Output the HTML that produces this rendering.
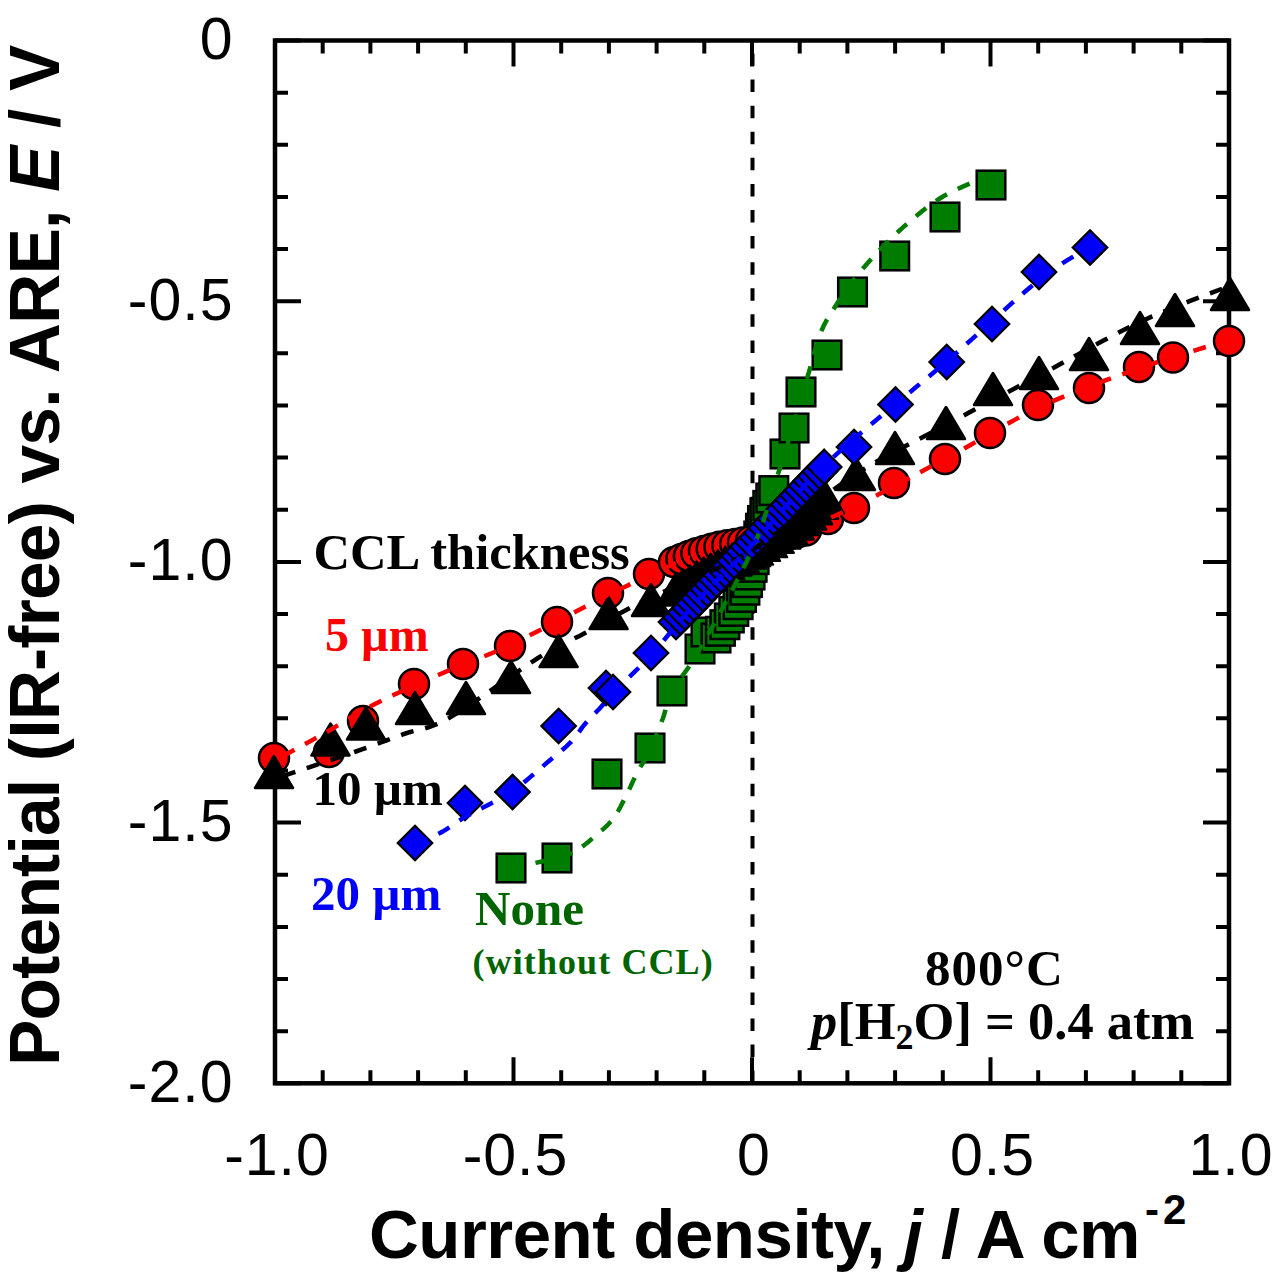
<!DOCTYPE html>
<html><head><meta charset="utf-8"><style>html,body{margin:0;padding:0;background:#fff;width:1280px;height:1273px;overflow:hidden}svg{display:block}</style></head>
<body><svg width="1280" height="1273" viewBox="0 0 1280 1273">
<rect width="1280" height="1273" fill="#fff"/>
<line x1="752.5" y1="40.5" x2="752.5" y2="1083.3" stroke="#000" stroke-width="4" stroke-dasharray="12.5 13.58" stroke-dashoffset="-13"/>
<rect x="275" y="40.5" width="954" height="1042.8" fill="none" stroke="#000" stroke-width="4.5"/>
<path d="M275.00,40.5v26M275.00,1083.3v-26M322.70,40.5v13M322.70,1083.3v-13M370.40,40.5v13M370.40,1083.3v-13M418.10,40.5v13M418.10,1083.3v-13M465.80,40.5v13M465.80,1083.3v-13M513.50,40.5v26M513.50,1083.3v-26M561.20,40.5v13M561.20,1083.3v-13M608.90,40.5v13M608.90,1083.3v-13M656.60,40.5v13M656.60,1083.3v-13M704.30,40.5v13M704.30,1083.3v-13M752.00,40.5v26M752.00,1083.3v-26M799.70,40.5v13M799.70,1083.3v-13M847.40,40.5v13M847.40,1083.3v-13M895.10,40.5v13M895.10,1083.3v-13M942.80,40.5v13M942.80,1083.3v-13M990.50,40.5v26M990.50,1083.3v-26M1038.20,40.5v13M1038.20,1083.3v-13M1085.90,40.5v13M1085.90,1083.3v-13M1133.60,40.5v13M1133.60,1083.3v-13M1181.30,40.5v13M1181.30,1083.3v-13M1229.00,40.5v26M1229.00,1083.3v-26M275,40.50h26M1229,40.50h-26M275,92.64h13M1229,92.64h-13M275,144.78h13M1229,144.78h-13M275,196.92h13M1229,196.92h-13M275,249.06h13M1229,249.06h-13M275,301.20h26M1229,301.20h-26M275,353.34h13M1229,353.34h-13M275,405.48h13M1229,405.48h-13M275,457.62h13M1229,457.62h-13M275,509.76h13M1229,509.76h-13M275,561.90h26M1229,561.90h-26M275,614.04h13M1229,614.04h-13M275,666.18h13M1229,666.18h-13M275,718.32h13M1229,718.32h-13M275,770.46h13M1229,770.46h-13M275,822.60h26M1229,822.60h-26M275,874.74h13M1229,874.74h-13M275,926.88h13M1229,926.88h-13M275,979.02h13M1229,979.02h-13M275,1031.16h13M1229,1031.16h-13M275,1083.30h26M1229,1083.30h-26" stroke="#000" stroke-width="4" fill="none"/>
<g>
<rect x="496.7" y="853.7" width="28.6" height="28.6" fill="#007d00" stroke="#000" stroke-width="2.5"/>
<rect x="542.7" y="843.7" width="28.6" height="28.6" fill="#007d00" stroke="#000" stroke-width="2.5"/>
<rect x="592.7" y="759.7" width="28.6" height="28.6" fill="#007d00" stroke="#000" stroke-width="2.5"/>
<rect x="635.7" y="733.7" width="28.6" height="28.6" fill="#007d00" stroke="#000" stroke-width="2.5"/>
<rect x="657.7" y="676.7" width="28.6" height="28.6" fill="#007d00" stroke="#000" stroke-width="2.5"/>
<rect x="685.7" y="634.7" width="28.6" height="28.6" fill="#007d00" stroke="#000" stroke-width="2.5"/>
<rect x="691.7" y="617.7" width="28.6" height="28.6" fill="#007d00" stroke="#000" stroke-width="2.5"/>
<rect x="701.7" y="623.7" width="28.6" height="28.6" fill="#007d00" stroke="#000" stroke-width="2.5"/>
<rect x="706.1" y="617.0" width="28.6" height="28.6" fill="#007d00" stroke="#000" stroke-width="2.5"/>
<rect x="710.6" y="610.4" width="28.6" height="28.6" fill="#007d00" stroke="#000" stroke-width="2.5"/>
<rect x="715.0" y="603.7" width="28.6" height="28.6" fill="#007d00" stroke="#000" stroke-width="2.5"/>
<rect x="719.5" y="597.1" width="28.6" height="28.6" fill="#007d00" stroke="#000" stroke-width="2.5"/>
<rect x="723.8" y="590.4" width="28.6" height="28.6" fill="#007d00" stroke="#000" stroke-width="2.5"/>
<rect x="727.2" y="583.1" width="28.6" height="28.6" fill="#007d00" stroke="#000" stroke-width="2.5"/>
<rect x="730.6" y="575.9" width="28.6" height="28.6" fill="#007d00" stroke="#000" stroke-width="2.5"/>
<rect x="733.2" y="568.3" width="28.6" height="28.6" fill="#007d00" stroke="#000" stroke-width="2.5"/>
<rect x="735.7" y="560.7" width="28.6" height="28.6" fill="#007d00" stroke="#000" stroke-width="2.5"/>
<rect x="737.8" y="553.0" width="28.6" height="28.6" fill="#007d00" stroke="#000" stroke-width="2.5"/>
<rect x="739.8" y="545.3" width="28.6" height="28.6" fill="#007d00" stroke="#000" stroke-width="2.5"/>
<rect x="741.4" y="537.4" width="28.6" height="28.6" fill="#007d00" stroke="#000" stroke-width="2.5"/>
<rect x="742.9" y="529.6" width="28.6" height="28.6" fill="#007d00" stroke="#000" stroke-width="2.5"/>
<rect x="744.5" y="521.7" width="28.6" height="28.6" fill="#007d00" stroke="#000" stroke-width="2.5"/>
<rect x="746.2" y="513.9" width="28.6" height="28.6" fill="#007d00" stroke="#000" stroke-width="2.5"/>
<rect x="748.2" y="506.2" width="28.6" height="28.6" fill="#007d00" stroke="#000" stroke-width="2.5"/>
<rect x="750.6" y="498.5" width="28.6" height="28.6" fill="#007d00" stroke="#000" stroke-width="2.5"/>
<rect x="753.5" y="491.1" width="28.6" height="28.6" fill="#007d00" stroke="#000" stroke-width="2.5"/>
<rect x="756.5" y="483.7" width="28.6" height="28.6" fill="#007d00" stroke="#000" stroke-width="2.5"/>
<rect x="759.5" y="476.3" width="28.6" height="28.6" fill="#007d00" stroke="#000" stroke-width="2.5"/>
<rect x="770.7" y="439.7" width="28.6" height="28.6" fill="#007d00" stroke="#000" stroke-width="2.5"/>
<rect x="779.7" y="413.7" width="28.6" height="28.6" fill="#007d00" stroke="#000" stroke-width="2.5"/>
<rect x="786.7" y="377.7" width="28.6" height="28.6" fill="#007d00" stroke="#000" stroke-width="2.5"/>
<rect x="812.7" y="340.7" width="28.6" height="28.6" fill="#007d00" stroke="#000" stroke-width="2.5"/>
<rect x="838.2" y="277.7" width="28.6" height="28.6" fill="#007d00" stroke="#000" stroke-width="2.5"/>
<rect x="880.4" y="241.7" width="28.6" height="28.6" fill="#007d00" stroke="#000" stroke-width="2.5"/>
<rect x="930.7" y="202.7" width="28.6" height="28.6" fill="#007d00" stroke="#000" stroke-width="2.5"/>
<rect x="976.7" y="170.7" width="28.6" height="28.6" fill="#007d00" stroke="#000" stroke-width="2.5"/>
<circle cx="274" cy="758" r="15" fill="#fa0000" stroke="#000" stroke-width="2.5"/>
<circle cx="329" cy="752" r="15" fill="#fa0000" stroke="#000" stroke-width="2.5"/>
<circle cx="363" cy="721" r="15" fill="#fa0000" stroke="#000" stroke-width="2.5"/>
<circle cx="414" cy="684" r="15" fill="#fa0000" stroke="#000" stroke-width="2.5"/>
<circle cx="463" cy="664" r="15" fill="#fa0000" stroke="#000" stroke-width="2.5"/>
<circle cx="510" cy="646" r="15" fill="#fa0000" stroke="#000" stroke-width="2.5"/>
<circle cx="557" cy="622" r="15" fill="#fa0000" stroke="#000" stroke-width="2.5"/>
<circle cx="608" cy="593" r="15" fill="#fa0000" stroke="#000" stroke-width="2.5"/>
<circle cx="649" cy="574" r="15" fill="#fa0000" stroke="#000" stroke-width="2.5"/>
<circle cx="674" cy="562" r="15" fill="#fa0000" stroke="#000" stroke-width="2.5"/>
<circle cx="681.4" cy="559.0" r="15" fill="#fa0000" stroke="#000" stroke-width="2.5"/>
<circle cx="688.9" cy="556.1" r="15" fill="#fa0000" stroke="#000" stroke-width="2.5"/>
<circle cx="696.4" cy="553.3" r="15" fill="#fa0000" stroke="#000" stroke-width="2.5"/>
<circle cx="704.0" cy="551.1" r="15" fill="#fa0000" stroke="#000" stroke-width="2.5"/>
<circle cx="711.7" cy="548.8" r="15" fill="#fa0000" stroke="#000" stroke-width="2.5"/>
<circle cx="719.4" cy="546.7" r="15" fill="#fa0000" stroke="#000" stroke-width="2.5"/>
<circle cx="727.3" cy="545.3" r="15" fill="#fa0000" stroke="#000" stroke-width="2.5"/>
<circle cx="735.2" cy="543.9" r="15" fill="#fa0000" stroke="#000" stroke-width="2.5"/>
<circle cx="743.0" cy="542.4" r="15" fill="#fa0000" stroke="#000" stroke-width="2.5"/>
<circle cx="750.9" cy="541.0" r="15" fill="#fa0000" stroke="#000" stroke-width="2.5"/>
<circle cx="758.8" cy="539.7" r="15" fill="#fa0000" stroke="#000" stroke-width="2.5"/>
<circle cx="766.7" cy="538.3" r="15" fill="#fa0000" stroke="#000" stroke-width="2.5"/>
<circle cx="774.6" cy="536.9" r="15" fill="#fa0000" stroke="#000" stroke-width="2.5"/>
<circle cx="782.4" cy="535.5" r="15" fill="#fa0000" stroke="#000" stroke-width="2.5"/>
<circle cx="790.3" cy="533.9" r="15" fill="#fa0000" stroke="#000" stroke-width="2.5"/>
<circle cx="798.1" cy="532.3" r="15" fill="#fa0000" stroke="#000" stroke-width="2.5"/>
<circle cx="805.9" cy="530.6" r="15" fill="#fa0000" stroke="#000" stroke-width="2.5"/>
<circle cx="828" cy="519" r="15" fill="#fa0000" stroke="#000" stroke-width="2.5"/>
<circle cx="854" cy="508" r="15" fill="#fa0000" stroke="#000" stroke-width="2.5"/>
<circle cx="894" cy="483" r="15" fill="#fa0000" stroke="#000" stroke-width="2.5"/>
<circle cx="945" cy="459" r="15" fill="#fa0000" stroke="#000" stroke-width="2.5"/>
<circle cx="990" cy="433" r="15" fill="#fa0000" stroke="#000" stroke-width="2.5"/>
<circle cx="1038" cy="405" r="15" fill="#fa0000" stroke="#000" stroke-width="2.5"/>
<circle cx="1089" cy="388" r="15" fill="#fa0000" stroke="#000" stroke-width="2.5"/>
<circle cx="1139" cy="367" r="15" fill="#fa0000" stroke="#000" stroke-width="2.5"/>
<circle cx="1173" cy="357.5" r="15" fill="#fa0000" stroke="#000" stroke-width="2.5"/>
<circle cx="1229" cy="341" r="15" fill="#fa0000" stroke="#000" stroke-width="2.5"/>
<path d="M274,756 L293,788 L255,788Z" fill="#000" stroke="#000" stroke-width="2.5" stroke-linejoin="round"/>
<path d="M330.5,723.5 L349.5,755.5 L311.5,755.5Z" fill="#000" stroke="#000" stroke-width="2.5" stroke-linejoin="round"/>
<path d="M366,707.5 L385,739.5 L347,739.5Z" fill="#000" stroke="#000" stroke-width="2.5" stroke-linejoin="round"/>
<path d="M415,692 L434,724 L396,724Z" fill="#000" stroke="#000" stroke-width="2.5" stroke-linejoin="round"/>
<path d="M466,682 L485,714 L447,714Z" fill="#000" stroke="#000" stroke-width="2.5" stroke-linejoin="round"/>
<path d="M511,661 L530,693 L492,693Z" fill="#000" stroke="#000" stroke-width="2.5" stroke-linejoin="round"/>
<path d="M558.6,635 L577.6,667 L539.6,667Z" fill="#000" stroke="#000" stroke-width="2.5" stroke-linejoin="round"/>
<path d="M608.6,597 L627.6,629 L589.6,629Z" fill="#000" stroke="#000" stroke-width="2.5" stroke-linejoin="round"/>
<path d="M651,584 L670,616 L632,616Z" fill="#000" stroke="#000" stroke-width="2.5" stroke-linejoin="round"/>
<path d="M676,573.5 L695,605.5 L657,605.5Z" fill="#000" stroke="#000" stroke-width="2.5" stroke-linejoin="round"/>
<path d="M682.9,569.5 L701.9,601.5 L663.9,601.5Z" fill="#000" stroke="#000" stroke-width="2.5" stroke-linejoin="round"/>
<path d="M689.9,565.5 L708.9,597.5 L670.9,597.5Z" fill="#000" stroke="#000" stroke-width="2.5" stroke-linejoin="round"/>
<path d="M696.8,561.6 L715.8,593.6 L677.8,593.6Z" fill="#000" stroke="#000" stroke-width="2.5" stroke-linejoin="round"/>
<path d="M703.8,557.6 L722.8,589.6 L684.8,589.6Z" fill="#000" stroke="#000" stroke-width="2.5" stroke-linejoin="round"/>
<path d="M710.7,553.7 L729.7,585.7 L691.7,585.7Z" fill="#000" stroke="#000" stroke-width="2.5" stroke-linejoin="round"/>
<path d="M718.0,550.3 L737.0,582.3 L699.0,582.3Z" fill="#000" stroke="#000" stroke-width="2.5" stroke-linejoin="round"/>
<path d="M725.2,546.9 L744.2,578.9 L706.2,578.9Z" fill="#000" stroke="#000" stroke-width="2.5" stroke-linejoin="round"/>
<path d="M732.5,543.5 L751.5,575.5 L713.5,575.5Z" fill="#000" stroke="#000" stroke-width="2.5" stroke-linejoin="round"/>
<path d="M739.7,540.1 L758.7,572.1 L720.7,572.1Z" fill="#000" stroke="#000" stroke-width="2.5" stroke-linejoin="round"/>
<path d="M746.8,536.4 L765.8,568.4 L727.8,568.4Z" fill="#000" stroke="#000" stroke-width="2.5" stroke-linejoin="round"/>
<path d="M753.9,532.6 L772.9,564.6 L734.9,564.6Z" fill="#000" stroke="#000" stroke-width="2.5" stroke-linejoin="round"/>
<path d="M760.9,528.8 L779.9,560.8 L741.9,560.8Z" fill="#000" stroke="#000" stroke-width="2.5" stroke-linejoin="round"/>
<path d="M768.0,525.1 L787.0,557.1 L749.0,557.1Z" fill="#000" stroke="#000" stroke-width="2.5" stroke-linejoin="round"/>
<path d="M774.7,520.8 L793.7,552.8 L755.7,552.8Z" fill="#000" stroke="#000" stroke-width="2.5" stroke-linejoin="round"/>
<path d="M781.4,516.4 L800.4,548.4 L762.4,548.4Z" fill="#000" stroke="#000" stroke-width="2.5" stroke-linejoin="round"/>
<path d="M788.1,512.0 L807.1,544.0 L769.1,544.0Z" fill="#000" stroke="#000" stroke-width="2.5" stroke-linejoin="round"/>
<path d="M794.7,507.5 L813.7,539.5 L775.7,539.5Z" fill="#000" stroke="#000" stroke-width="2.5" stroke-linejoin="round"/>
<path d="M801.2,502.9 L820.2,534.9 L782.2,534.9Z" fill="#000" stroke="#000" stroke-width="2.5" stroke-linejoin="round"/>
<path d="M807.2,497.5 L826.2,529.5 L788.2,529.5Z" fill="#000" stroke="#000" stroke-width="2.5" stroke-linejoin="round"/>
<path d="M813.1,492.2 L832.1,524.2 L794.1,524.2Z" fill="#000" stroke="#000" stroke-width="2.5" stroke-linejoin="round"/>
<path d="M819.1,486.8 L838.1,518.8 L800.1,518.8Z" fill="#000" stroke="#000" stroke-width="2.5" stroke-linejoin="round"/>
<path d="M825.0,481.5 L844.0,513.5 L806.0,513.5Z" fill="#000" stroke="#000" stroke-width="2.5" stroke-linejoin="round"/>
<path d="M856,458 L875,490 L837,490Z" fill="#000" stroke="#000" stroke-width="2.5" stroke-linejoin="round"/>
<path d="M895,432 L914,464 L876,464Z" fill="#000" stroke="#000" stroke-width="2.5" stroke-linejoin="round"/>
<path d="M946,407 L965,439 L927,439Z" fill="#000" stroke="#000" stroke-width="2.5" stroke-linejoin="round"/>
<path d="M993,373 L1012,405 L974,405Z" fill="#000" stroke="#000" stroke-width="2.5" stroke-linejoin="round"/>
<path d="M1039,357 L1058,389 L1020,389Z" fill="#000" stroke="#000" stroke-width="2.5" stroke-linejoin="round"/>
<path d="M1089,338 L1108,370 L1070,370Z" fill="#000" stroke="#000" stroke-width="2.5" stroke-linejoin="round"/>
<path d="M1140,312 L1159,344 L1121,344Z" fill="#000" stroke="#000" stroke-width="2.5" stroke-linejoin="round"/>
<path d="M1175,294 L1194,326 L1156,326Z" fill="#000" stroke="#000" stroke-width="2.5" stroke-linejoin="round"/>
<path d="M1230,278 L1249,310 L1211,310Z" fill="#000" stroke="#000" stroke-width="2.5" stroke-linejoin="round"/>
<path d="M415,825.8 L432.2,843 L415,860.2 L397.8,843Z" fill="#0000fa" stroke="#000" stroke-width="2.3"/>
<path d="M465,785.8 L482.2,803 L465,820.2 L447.8,803Z" fill="#0000fa" stroke="#000" stroke-width="2.3"/>
<path d="M512.5,774.8 L529.7,792 L512.5,809.2 L495.3,792Z" fill="#0000fa" stroke="#000" stroke-width="2.3"/>
<path d="M558.6,708.8 L575.8000000000001,726 L558.6,743.2 L541.4,726Z" fill="#0000fa" stroke="#000" stroke-width="2.3"/>
<path d="M606,670.8 L623.2,688 L606,705.2 L588.8,688Z" fill="#0000fa" stroke="#000" stroke-width="2.3"/>
<path d="M613,674.8 L630.2,692 L613,709.2 L595.8,692Z" fill="#0000fa" stroke="#000" stroke-width="2.3"/>
<path d="M651,635.8 L668.2,653 L651,670.2 L633.8,653Z" fill="#0000fa" stroke="#000" stroke-width="2.3"/>
<path d="M676,604.8 L693.2,622 L676,639.2 L658.8,622Z" fill="#0000fa" stroke="#000" stroke-width="2.3"/>
<path d="M680.5,600.0999999999999 L697.7,617.3 L680.5,634.5 L663.3,617.3Z" fill="#0000fa" stroke="#000" stroke-width="2.3"/>
<path d="M685.0,595.4 L702.2,612.6 L685.0,629.8000000000001 L667.8,612.6Z" fill="#0000fa" stroke="#000" stroke-width="2.3"/>
<path d="M689.5,590.6999999999999 L706.7,607.9 L689.5,625.1 L672.3,607.9Z" fill="#0000fa" stroke="#000" stroke-width="2.3"/>
<path d="M694.0,586.0 L711.2,603.2 L694.0,620.4000000000001 L676.8,603.2Z" fill="#0000fa" stroke="#000" stroke-width="2.3"/>
<path d="M698.5,581.3 L715.7,598.5 L698.5,615.7 L681.3,598.5Z" fill="#0000fa" stroke="#000" stroke-width="2.3"/>
<path d="M702.9,576.5999999999999 L720.1,593.8 L702.9,611.0 L685.6999999999999,593.8Z" fill="#0000fa" stroke="#000" stroke-width="2.3"/>
<path d="M707.4,571.9 L724.6,589.1 L707.4,606.3000000000001 L690.1999999999999,589.1Z" fill="#0000fa" stroke="#000" stroke-width="2.3"/>
<path d="M711.9,567.1999999999999 L729.1,584.4 L711.9,601.6 L694.6999999999999,584.4Z" fill="#0000fa" stroke="#000" stroke-width="2.3"/>
<path d="M716.4,562.5 L733.6,579.7 L716.4,596.9000000000001 L699.1999999999999,579.7Z" fill="#0000fa" stroke="#000" stroke-width="2.3"/>
<path d="M720.9,557.8 L738.1,575.0 L720.9,592.2 L703.6999999999999,575.0Z" fill="#0000fa" stroke="#000" stroke-width="2.3"/>
<path d="M725.4,553.0999999999999 L742.6,570.3 L725.4,587.5 L708.1999999999999,570.3Z" fill="#0000fa" stroke="#000" stroke-width="2.3"/>
<path d="M729.9,548.4 L747.1,565.6 L729.9,582.8000000000001 L712.6999999999999,565.6Z" fill="#0000fa" stroke="#000" stroke-width="2.3"/>
<path d="M734.4,543.6999999999999 L751.6,560.9 L734.4,578.1 L717.1999999999999,560.9Z" fill="#0000fa" stroke="#000" stroke-width="2.3"/>
<path d="M738.9,539.0 L756.1,556.2 L738.9,573.4000000000001 L721.6999999999999,556.2Z" fill="#0000fa" stroke="#000" stroke-width="2.3"/>
<path d="M743.4,534.3 L760.6,551.5 L743.4,568.7 L726.1999999999999,551.5Z" fill="#0000fa" stroke="#000" stroke-width="2.3"/>
<path d="M747.8,529.5999999999999 L765.0,546.8 L747.8,564.0 L730.5999999999999,546.8Z" fill="#0000fa" stroke="#000" stroke-width="2.3"/>
<path d="M752.3,524.9 L769.5,542.1 L752.3,559.3000000000001 L735.0999999999999,542.1Z" fill="#0000fa" stroke="#000" stroke-width="2.3"/>
<path d="M756.8,520.1999999999999 L774.0,537.4 L756.8,554.6 L739.5999999999999,537.4Z" fill="#0000fa" stroke="#000" stroke-width="2.3"/>
<path d="M761.3,515.5 L778.5,532.7 L761.3,549.9000000000001 L744.0999999999999,532.7Z" fill="#0000fa" stroke="#000" stroke-width="2.3"/>
<path d="M765.8,510.8 L783.0,528.0 L765.8,545.2 L748.5999999999999,528.0Z" fill="#0000fa" stroke="#000" stroke-width="2.3"/>
<path d="M770.3,506.09999999999997 L787.5,523.3 L770.3,540.5 L753.0999999999999,523.3Z" fill="#0000fa" stroke="#000" stroke-width="2.3"/>
<path d="M774.8,501.40000000000003 L792.0,518.6 L774.8,535.8000000000001 L757.5999999999999,518.6Z" fill="#0000fa" stroke="#000" stroke-width="2.3"/>
<path d="M779.3,496.7 L796.5,513.9 L779.3,531.1 L762.0999999999999,513.9Z" fill="#0000fa" stroke="#000" stroke-width="2.3"/>
<path d="M783.8,492.0 L801.0,509.2 L783.8,526.4 L766.5999999999999,509.2Z" fill="#0000fa" stroke="#000" stroke-width="2.3"/>
<path d="M788.3,487.3 L805.5,504.5 L788.3,521.7 L771.0999999999999,504.5Z" fill="#0000fa" stroke="#000" stroke-width="2.3"/>
<path d="M792.8,482.6 L810.0,499.8 L792.8,517.0 L775.5999999999999,499.8Z" fill="#0000fa" stroke="#000" stroke-width="2.3"/>
<path d="M797.2,477.90000000000003 L814.4000000000001,495.1 L797.2,512.3000000000001 L780.0,495.1Z" fill="#0000fa" stroke="#000" stroke-width="2.3"/>
<path d="M801.7,473.2 L818.9000000000001,490.4 L801.7,507.59999999999997 L784.5,490.4Z" fill="#0000fa" stroke="#000" stroke-width="2.3"/>
<path d="M806.2,468.5 L823.4000000000001,485.7 L806.2,502.9 L789.0,485.7Z" fill="#0000fa" stroke="#000" stroke-width="2.3"/>
<path d="M810.7,463.8 L827.9000000000001,481.0 L810.7,498.2 L793.5,481.0Z" fill="#0000fa" stroke="#000" stroke-width="2.3"/>
<path d="M815.2,459.1 L832.4000000000001,476.3 L815.2,493.5 L798.0,476.3Z" fill="#0000fa" stroke="#000" stroke-width="2.3"/>
<path d="M819.7,454.40000000000003 L836.9000000000001,471.6 L819.7,488.8 L802.5,471.6Z" fill="#0000fa" stroke="#000" stroke-width="2.3"/>
<path d="M824.2,449.7 L841.4000000000001,466.9 L824.2,484.09999999999997 L807.0,466.9Z" fill="#0000fa" stroke="#000" stroke-width="2.3"/>
<path d="M854,429.8 L871.2,447 L854,464.2 L836.8,447Z" fill="#0000fa" stroke="#000" stroke-width="2.3"/>
<path d="M895.5,387.3 L912.7,404.5 L895.5,421.7 L878.3,404.5Z" fill="#0000fa" stroke="#000" stroke-width="2.3"/>
<path d="M946.7,344.8 L963.9000000000001,362 L946.7,379.2 L929.5,362Z" fill="#0000fa" stroke="#000" stroke-width="2.3"/>
<path d="M992,306.8 L1009.2,324 L992,341.2 L974.8,324Z" fill="#0000fa" stroke="#000" stroke-width="2.3"/>
<path d="M1039,254.8 L1056.2,272 L1039,289.2 L1021.8,272Z" fill="#0000fa" stroke="#000" stroke-width="2.3"/>
<path d="M1090,230.3 L1107.2,247.5 L1090,264.7 L1072.8,247.5Z" fill="#0000fa" stroke="#000" stroke-width="2.3"/>
</g>
<path d="M511.0,868.0 L514.7,867.2 L519.9,866.2 L526.0,864.9 L532.8,863.5 L539.6,862.0 L546.2,860.6 L552.2,859.2 L557.0,858.0 L560.8,856.9 L563.9,856.0 L566.5,855.1 L568.8,854.2 L570.9,853.3 L572.8,852.3 L574.8,851.2 L577.0,850.0 L579.3,848.6 L581.4,847.2 L583.5,845.7 L585.6,844.1 L587.6,842.5 L589.7,840.7 L591.8,838.9 L594.0,837.0 L596.3,835.0 L598.8,833.0 L601.2,830.8 L603.8,828.6 L606.2,826.3 L608.6,824.0 L610.9,821.5 L613.0,819.0 L614.9,816.4 L616.7,813.6 L618.4,810.7 L620.0,807.8 L621.5,804.8 L623.0,801.9 L624.5,798.9 L626.0,796.0 L627.5,793.1 L628.8,790.2 L630.2,787.4 L631.5,784.5 L632.8,781.6 L634.2,778.8 L635.5,775.9 L637.0,773.0 L638.5,770.2 L640.1,767.5 L641.7,764.8 L643.4,762.1 L645.0,759.3 L646.7,756.4 L648.4,753.3 L650.0,750.0 L651.7,746.4 L653.3,742.5 L655.1,738.4 L656.8,734.2 L658.4,730.0 L660.0,725.9 L661.6,721.8 L663.0,718.0 L664.2,714.5 L665.1,711.2 L665.8,708.2 L666.6,705.1 L667.4,702.0 L668.5,698.7 L670.0,695.1 L672.0,691.0 L674.4,686.9 L677.1,682.9 L680.1,678.9 L683.3,674.5 L686.9,669.6 L690.9,663.9 L695.2,657.1 L700.0,649.0 L705.5,639.2 L712.0,627.6 L719.0,614.8 L726.2,601.2 L733.5,587.5 L740.4,574.0 L746.7,561.4 L752.0,550.0 L756.4,539.7 L760.2,530.0 L763.4,520.7 L766.2,511.9 L768.8,503.5 L771.2,495.4 L773.6,487.6 L776.0,480.0 L778.4,472.7 L780.7,465.8 L782.8,459.3 L784.8,453.0 L786.7,447.0 L788.5,441.2 L790.3,435.5 L792.0,430.0 L793.6,424.6 L795.2,419.4 L796.6,414.4 L798.0,409.6 L799.3,404.9 L800.6,400.4 L801.8,396.1 L803.0,392.0 L804.1,388.1 L805.2,384.5 L806.2,381.1 L807.2,377.9 L808.1,374.7 L809.1,371.6 L810.0,368.3 L811.0,365.0 L812.0,361.5 L812.9,358.0 L813.8,354.4 L814.8,350.8 L815.7,347.3 L816.7,343.7 L817.8,340.3 L819.0,337.0 L820.2,333.9 L821.3,331.1 L822.5,328.5 L823.7,325.8 L825.1,323.1 L826.7,320.1 L828.7,316.8 L831.0,313.0 L833.8,308.7 L836.8,303.9 L840.2,298.8 L843.9,293.5 L847.7,288.0 L851.7,282.6 L855.8,277.2 L860.0,272.0 L864.3,266.9 L868.8,261.8 L873.5,256.6 L878.2,251.5 L883.1,246.4 L888.1,241.5 L893.0,236.7 L898.0,232.0 L903.0,227.4 L908.1,222.9 L913.2,218.5 L918.4,214.2 L923.6,210.0 L928.8,206.1 L934.0,202.4 L939.0,199.0 L944.2,195.8 L949.8,192.8 L955.5,190.0 L961.1,187.4 L966.3,185.1 L971.0,183.1 L975.0,181.4 L978.0,180.0" fill="none" stroke="#007d00" stroke-width="4.5" stroke-dasharray="13 12"/>
<clipPath id="rc"><path d="M0,0H690V1273H0Z M830,0H1280V1273H830Z"/></clipPath>
<path d="M283.0,756.0 L286.2,754.3 L290.4,752.0 L295.4,749.3 L301.0,746.2 L307.0,743.0 L313.1,739.6 L319.2,736.3 L325.0,733.0 L330.6,729.8 L336.1,726.4 L341.7,723.0 L347.4,719.5 L353.3,715.9 L359.5,712.3 L366.0,708.7 L373.0,705.0 L380.5,701.3 L388.5,697.4 L396.8,693.5 L405.4,689.6 L414.2,685.6 L423.0,681.7 L431.8,677.8 L440.5,674.0 L448.9,670.4 L457.1,667.1 L465.2,663.9 L473.3,660.7 L481.8,657.3 L490.6,653.7 L499.9,649.6 L510.0,645.0 L521.1,639.6 L533.2,633.5 L546.1,627.0 L559.2,620.1 L572.3,613.3 L585.1,606.7 L597.1,600.5 L608.0,595.0 L618.1,590.1 L627.7,585.4 L636.9,581.0 L645.5,576.9 L653.6,573.2 L661.1,569.8 L667.9,566.7 L674.0,564.0 L679.0,561.9 L682.7,560.3 L685.5,559.2 L687.9,558.4 L690.1,557.8 L692.6,557.1 L695.8,556.2 L700.0,555.0 L705.1,553.6 L710.6,552.1 L716.5,550.5 L722.8,548.9 L729.5,547.1 L736.6,545.2 L744.1,543.2 L752.0,541.0 L760.3,538.8 L768.8,536.7 L777.7,534.6 L787.1,532.3 L796.9,529.7 L807.3,526.5 L818.3,522.7 L830.0,518.0 L842.7,512.3 L856.6,505.6 L871.3,498.2 L886.4,490.3 L901.7,482.2 L916.8,474.1 L931.3,466.3 L945.0,459.0 L957.8,452.1 L970.0,445.2 L981.9,438.4 L993.4,431.8 L1004.9,425.2 L1016.4,418.9 L1028.0,412.8 L1040.0,407.0 L1052.3,401.4 L1064.9,396.1 L1077.6,390.9 L1090.4,386.0 L1103.1,381.2 L1115.7,376.7 L1128.0,372.3 L1140.0,368.0 L1152.3,363.8 L1165.1,359.6 L1178.1,355.5 L1190.8,351.6 L1202.6,348.0 L1213.3,344.8 L1222.2,342.1 L1229.0,340.0" fill="none" stroke="#fa0000" stroke-width="4.5" stroke-dasharray="13 12" clip-path="url(#rc)"/>
<path d="M283.0,776.0 L288.7,774.1 L296.4,771.5 L305.5,768.5 L315.7,765.1 L326.2,761.6 L336.5,758.1 L346.1,754.9 L354.5,752.0 L361.8,749.4 L368.5,747.0 L374.9,744.7 L380.9,742.5 L386.7,740.3 L392.5,738.2 L398.2,736.1 L404.0,734.0 L409.5,732.2 L414.5,730.9 L419.3,729.8 L424.0,728.6 L429.1,727.1 L434.8,725.0 L441.3,722.1 L449.0,718.0 L458.3,712.4 L469.1,705.3 L481.0,697.2 L493.4,688.6 L505.8,679.9 L517.7,671.6 L528.6,664.1 L538.0,658.0 L545.9,653.2 L552.8,649.3 L558.8,646.1 L564.2,643.3 L569.4,640.8 L574.4,638.4 L579.5,635.9 L585.0,633.0 L590.7,629.9 L596.4,626.7 L602.0,623.5 L607.6,620.3 L613.1,617.2 L618.7,614.0 L624.3,611.0 L630.0,608.0 L635.5,605.2 L640.7,602.6 L645.9,600.1 L651.1,597.7 L656.5,595.1 L662.4,592.4 L668.8,589.4 L676.0,586.0 L683.9,582.4 L692.2,578.9 L701.1,575.3 L710.4,571.4 L720.1,567.0 L730.3,562.1 L741.0,556.5 L752.0,550.0 L763.8,542.2 L776.4,533.2 L789.6,523.2 L803.1,512.8 L816.8,502.3 L830.3,492.0 L843.5,482.5 L856.0,474.0 L867.9,466.6 L879.4,459.9 L890.6,453.7 L901.6,447.9 L912.6,442.3 L923.5,436.7 L934.7,431.0 L946.0,425.0 L957.5,418.8 L969.1,412.6 L980.7,406.5 L992.4,400.2 L1004.1,394.0 L1016.0,387.7 L1027.9,381.4 L1040.0,375.0 L1052.3,368.4 L1064.8,361.6 L1077.5,354.6 L1090.3,347.6 L1103.0,340.8 L1115.6,334.1 L1128.0,327.8 L1140.0,322.0 L1152.3,316.4 L1165.1,311.0 L1178.1,305.7 L1190.8,300.7 L1202.6,296.1 L1213.3,292.1 L1222.2,288.7 L1229.0,286.0" fill="none" stroke="#000" stroke-width="4.5" stroke-dasharray="13 12"/>
<path d="M415.0,843.0 L416.9,842.3 L419.5,841.3 L422.5,840.2 L425.9,839.0 L429.5,837.6 L433.2,836.2 L436.7,834.6 L440.0,833.0 L443.1,831.3 L446.2,829.4 L449.4,827.3 L452.5,825.2 L455.6,823.0 L458.8,820.9 L461.9,818.9 L465.0,817.0 L468.1,815.2 L471.3,813.5 L474.5,811.9 L477.7,810.2 L480.8,808.7 L484.0,807.1 L487.0,805.6 L490.0,804.0 L492.8,802.6 L495.4,801.4 L497.8,800.3 L500.2,799.1 L502.8,797.8 L505.5,796.3 L508.6,794.4 L512.0,792.0 L516.0,789.0 L520.5,785.3 L525.4,781.2 L530.5,776.9 L535.6,772.6 L540.5,768.4 L545.0,764.4 L549.0,761.0 L552.5,758.0 L555.7,755.4 L558.7,753.0 L561.4,750.7 L564.0,748.5 L566.4,746.4 L568.7,744.2 L571.0,742.0 L573.1,739.7 L575.0,737.4 L576.7,735.1 L578.4,732.9 L580.0,730.6 L581.5,728.4 L583.2,726.2 L585.0,724.0 L586.9,721.8 L589.0,719.6 L591.0,717.4 L593.1,715.2 L595.2,713.1 L597.2,711.0 L599.2,709.0 L601.0,707.0 L602.5,705.3 L603.7,703.9 L604.7,702.6 L605.6,701.3 L606.8,699.9 L608.3,698.1 L610.3,695.9 L613.0,693.0 L616.4,689.5 L620.4,685.6 L624.9,681.3 L629.7,676.7 L634.8,671.7 L640.1,666.4 L645.5,660.8 L651.0,655.0 L656.6,648.8 L662.4,642.0 L668.4,634.8 L674.6,627.4 L680.9,619.9 L687.3,612.4 L693.7,605.1 L700.0,598.0 L706.2,591.4 L712.2,585.2 L718.2,579.2 L724.3,573.1 L730.6,566.9 L737.2,560.3 L744.3,553.0 L752.0,545.0 L760.1,536.2 L768.3,526.8 L776.9,516.8 L785.9,506.4 L795.4,495.7 L805.5,484.6 L816.3,473.4 L828.0,462.0 L840.9,450.2 L855.1,437.8 L870.3,425.0 L885.9,411.9 L901.7,398.9 L917.3,386.1 L932.2,373.8 L946.0,362.0 L959.1,350.6 L972.0,339.1 L984.6,327.8 L996.7,316.8 L1008.3,306.4 L1019.3,296.6 L1029.6,287.8 L1039.0,280.0 L1047.7,273.3 L1055.9,267.5 L1063.4,262.6 L1070.3,258.4 L1076.5,254.8 L1081.8,251.8 L1086.4,249.2 L1090.0,247.0" fill="none" stroke="#0000fa" stroke-width="4.5" stroke-dasharray="13 12"/>
<text x="233.5" y="59.0" font-family="Liberation Sans, sans-serif" font-size="59" letter-spacing="1" text-anchor="end">0</text>
<text x="233.5" y="319.7" font-family="Liberation Sans, sans-serif" font-size="59" letter-spacing="1" text-anchor="end">-0.5</text>
<text x="233.5" y="580.4" font-family="Liberation Sans, sans-serif" font-size="59" letter-spacing="1" text-anchor="end">-1.0</text>
<text x="233.5" y="841.1" font-family="Liberation Sans, sans-serif" font-size="59" letter-spacing="1" text-anchor="end">-1.5</text>
<text x="233.5" y="1101.8" font-family="Liberation Sans, sans-serif" font-size="59" letter-spacing="1" text-anchor="end">-2.0</text>
<text x="277.0" y="1174.5" font-family="Liberation Sans, sans-serif" font-size="59" letter-spacing="1" text-anchor="middle">-1.0</text>
<text x="515.5" y="1174.5" font-family="Liberation Sans, sans-serif" font-size="59" letter-spacing="1" text-anchor="middle">-0.5</text>
<text x="754.0" y="1174.5" font-family="Liberation Sans, sans-serif" font-size="59" letter-spacing="1" text-anchor="middle">0</text>
<text x="992.5" y="1174.5" font-family="Liberation Sans, sans-serif" font-size="59" letter-spacing="1" text-anchor="middle">0.5</text>
<text x="1231.0" y="1174.5" font-family="Liberation Sans, sans-serif" font-size="59" letter-spacing="1" text-anchor="middle">1.0</text>
<text x="369" y="1258" font-family="Liberation Sans, sans-serif" font-weight="bold" font-size="69" letter-spacing="-0.5">Current density, <tspan font-style="italic">j</tspan> / A cm<tspan font-size="42" dx="5" dy="-34" letter-spacing="4">-2</tspan></text>
<text transform="translate(58.5,1066) rotate(-90)" font-family="Liberation Sans, sans-serif" font-weight="bold" font-size="69.5" letter-spacing="-0.8">Potential (IR-free) vs. ARE, <tspan font-style="italic">E</tspan> / V</text>
<text x="313.5" y="569" font-family="Liberation Serif, serif" font-weight="bold" font-size="50.6">CCL thickness</text>
<text x="325" y="650.5" font-family="Liberation Serif, serif" font-weight="bold" font-size="48" fill="#fa0000">5 µm</text>
<text x="312.5" y="804.5" font-family="Liberation Serif, serif" font-weight="bold" font-size="49">10 µm</text>
<text x="311" y="909.5" font-family="Liberation Serif, serif" font-weight="bold" font-size="49" fill="#0000fa">20 µm</text>
<text x="475" y="925" font-family="Liberation Serif, serif" font-weight="bold" font-size="49" fill="#006400">None</text>
<text x="472.5" y="973.5" font-family="Liberation Serif, serif" font-weight="bold" font-size="36" letter-spacing="1.1" fill="#006400">(without CCL)</text>
<text x="925" y="985" font-family="Liberation Serif, serif" font-weight="bold" font-size="51" letter-spacing="1">800°C</text>
<text x="811" y="1038.5" font-family="Liberation Serif, serif" font-weight="bold" font-size="52.5"><tspan font-style="italic">p</tspan>[H<tspan font-size="36" dy="10">2</tspan><tspan dy="-10">O] = 0.4 atm</tspan></text>
</svg></body></html>
